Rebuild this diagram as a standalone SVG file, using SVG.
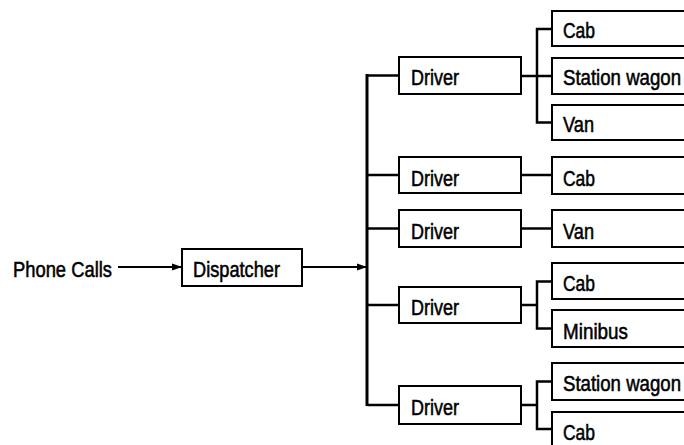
<svg xmlns="http://www.w3.org/2000/svg" width="684" height="445" viewBox="0 0 684 445">
  <style>
    .box { fill: #fff; stroke: #000; stroke-width: 2; }
    .lbl { font-family: "Liberation Sans", Arial, sans-serif; font-size: 22px; fill: #000; stroke: #000; stroke-width: 0.55; }
    .bus { fill: none; stroke: #000; stroke-width: 3; }
    .ln { fill: none; stroke: #000; stroke-width: 2.5; }
    .arr { fill: none; stroke: #000; stroke-width: 2; }
  </style>
  <defs>
    <marker id="ah" markerWidth="10" markerHeight="8" refX="9" refY="4" orient="auto" markerUnits="userSpaceOnUse">
      <path d="M0,0.5 L10,4 L0,7.5 Z" fill="#000"/>
    </marker>
  </defs>
  <rect width="684" height="445" fill="#fff"/>

  <g id="connectors">
    <line class="arr" x1="118" y1="267" x2="181" y2="267" marker-end="url(#ah)"/>
    <line class="arr" x1="302" y1="267" x2="366" y2="267" marker-end="url(#ah)"/>
    <line class="bus" x1="367" y1="74" x2="367" y2="406"/>
    <line class="ln" x1="367" y1="75.5" x2="399" y2="75.5"/>
    <line class="ln" x1="367" y1="175" x2="399" y2="175"/>
    <line class="ln" x1="367" y1="228.5" x2="399" y2="228.5"/>
    <line class="ln" x1="367" y1="305" x2="399" y2="305"/>
    <line class="ln" x1="367" y1="405" x2="399" y2="405"/>
    <line class="ln" x1="521" y1="76" x2="552" y2="76"/>
    <path class="ln" d="M552,29 H537 V122.5 H552"/>
    <line class="ln" x1="521" y1="175" x2="552" y2="175"/>
    <line class="ln" x1="521" y1="228.5" x2="552" y2="228.5"/>
    <line class="ln" x1="521" y1="305" x2="537" y2="305"/>
    <path class="ln" d="M552,281.5 H537 V328.5 H552"/>
    <line class="ln" x1="521" y1="405" x2="537" y2="405"/>
    <path class="ln" d="M552,381.5 H537 V429 H552"/>
  </g>

  <g id="phone-calls">
    <text class="lbl" x="13" y="277" textLength="99" lengthAdjust="spacingAndGlyphs">Phone Calls</text>
  </g>
  <g id="dispatcher">
    <rect class="box" x="182" y="249" width="120" height="37"/>
    <text class="lbl" x="193" y="277" textLength="87" lengthAdjust="spacingAndGlyphs">Dispatcher</text>
  </g>

  <g id="driver-1">
    <rect class="box" x="399" y="57" width="122" height="37"/>
    <text class="lbl" x="411" y="85" textLength="48" lengthAdjust="spacingAndGlyphs">Driver</text>
  </g>
  <g id="driver-2">
    <rect class="box" x="399" y="157" width="122" height="36"/>
    <text class="lbl" x="411" y="186" textLength="48" lengthAdjust="spacingAndGlyphs">Driver</text>
  </g>
  <g id="driver-3">
    <rect class="box" x="399" y="210" width="122" height="37"/>
    <text class="lbl" x="411" y="239" textLength="48" lengthAdjust="spacingAndGlyphs">Driver</text>
  </g>
  <g id="driver-4">
    <rect class="box" x="399" y="287" width="122" height="36"/>
    <text class="lbl" x="411" y="315" textLength="48" lengthAdjust="spacingAndGlyphs">Driver</text>
  </g>
  <g id="driver-5">
    <rect class="box" x="399" y="386" width="122" height="38"/>
    <text class="lbl" x="411" y="415" textLength="48" lengthAdjust="spacingAndGlyphs">Driver</text>
  </g>

  <g id="cab-1">
    <rect class="box" x="552" y="11" width="145" height="35"/>
    <text class="lbl" x="563" y="38" textLength="32" lengthAdjust="spacingAndGlyphs">Cab</text>
  </g>
  <g id="station-wagon-1">
    <rect class="box" x="552" y="58" width="145" height="36"/>
    <text class="lbl" x="563" y="85" textLength="118" lengthAdjust="spacingAndGlyphs">Station wagon</text>
  </g>
  <g id="van-1">
    <rect class="box" x="552" y="105" width="145" height="35"/>
    <text class="lbl" x="563" y="132" textLength="31" lengthAdjust="spacingAndGlyphs">Van</text>
  </g>
  <g id="cab-2">
    <rect class="box" x="552" y="157" width="145" height="37"/>
    <text class="lbl" x="563" y="186" textLength="32" lengthAdjust="spacingAndGlyphs">Cab</text>
  </g>
  <g id="van-2">
    <rect class="box" x="552" y="210" width="145" height="37"/>
    <text class="lbl" x="563" y="239" textLength="31" lengthAdjust="spacingAndGlyphs">Van</text>
  </g>
  <g id="cab-3">
    <rect class="box" x="552" y="263" width="145" height="36"/>
    <text class="lbl" x="563" y="291" textLength="32" lengthAdjust="spacingAndGlyphs">Cab</text>
  </g>
  <g id="minibus">
    <rect class="box" x="552" y="310" width="145" height="37"/>
    <text class="lbl" x="563" y="339" textLength="65" lengthAdjust="spacingAndGlyphs">Minibus</text>
  </g>
  <g id="station-wagon-2">
    <rect class="box" x="552" y="363" width="145" height="37"/>
    <text class="lbl" x="563" y="391" textLength="118" lengthAdjust="spacingAndGlyphs">Station wagon</text>
  </g>
  <g id="cab-4">
    <rect class="box" x="552" y="412" width="145" height="40"/>
    <text class="lbl" x="563" y="440" textLength="32" lengthAdjust="spacingAndGlyphs">Cab</text>
  </g>
</svg>
